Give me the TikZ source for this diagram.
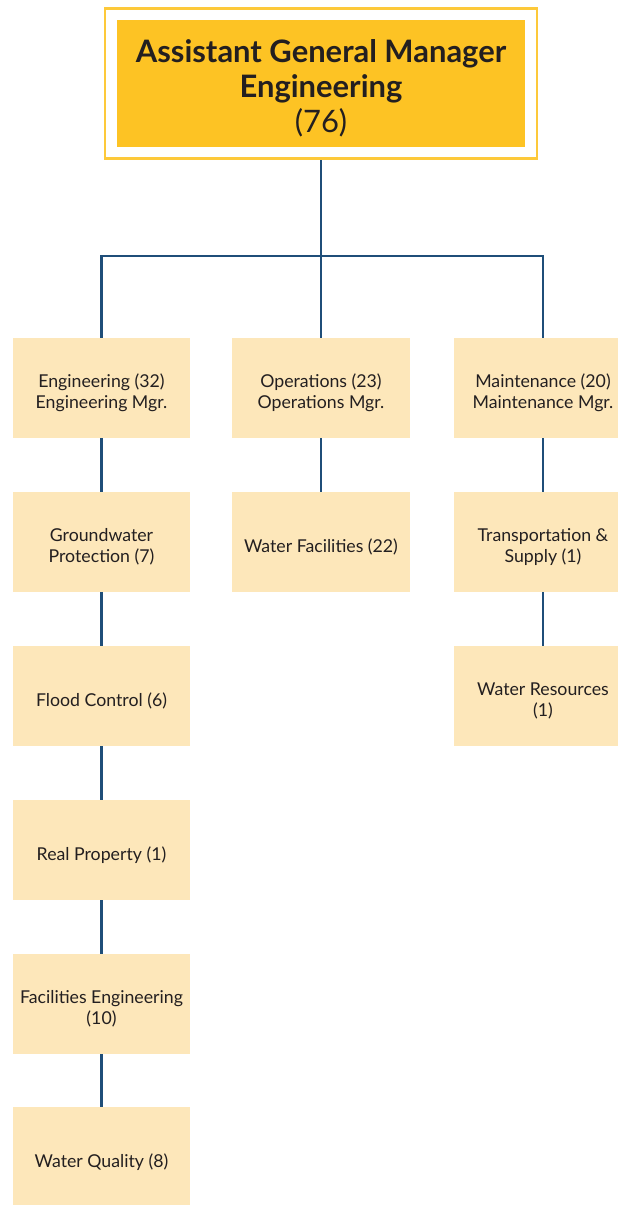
\documentclass[tikz,border=0pt]{standalone}
\usepackage{fontspec}
\setmainfont{Lato}
\usetikzlibrary{fit}

\definecolor{agmgold}{RGB}{253,195,36}
\definecolor{unitcream}{RGB}{253,231,186}
\definecolor{linkblue}{RGB}{31,78,121}
\definecolor{inktext}{RGB}{35,31,32}

% raise the first line so text sits a little low, as in the chart
\newcommand{\unitlift}{\rule{0pt}{16.5pt}}
\newcommand{\headlift}{\rule{0pt}{23pt}}

\tikzset{
    unit/.style={fill=unitcream, minimum width=4.425cm, minimum height=2.5cm,
        inner sep=0pt, align=center, text=inktext,
        font=\fontsize{12.6}{15}\selectfont},
    head/.style={fill=agmgold, minimum width=10.2cm, minimum height=3.175cm,
        inner sep=0pt, align=center, text=inktext,
        font=\fontsize{22}{25}\selectfont},
    headframe/.style={draw=agmgold!90!white, line width=2pt, inner sep=0.29cm},
    link/.style={draw=linkblue, line width=2.1pt}
}

\begin{document}
\begin{tikzpicture}[x=0.025cm, y=-0.025cm]
    \useasboundingbox (0,0) rectangle (618,1205);

    % Top box
    \node[head] (agm) at (321,83.5)
    {\headlift\textbf{Assistant General Manager}\\\textbf{Engineering}\\(76)};
    \node[headframe, fit=(agm)] (agmframe) {};

    % Divisions
    \node[unit] (eng) at (101.5,388) {\unitlift Engineering (32)\\Engineering Mgr.};
    \node[unit] (ops) at (321,388) {\unitlift Operations (23)\\Operations Mgr.};
    \node[unit] (mnt) at (543,388) {\unitlift Maintenance (20)\\Maintenance Mgr.};

    % Engineering sections
    \node[unit] (gwp) at (101.5,542) {\unitlift Groundwater\\Protection (7)};
    \node[unit] (flood) at (101.5,696) {\unitlift Flood Control (6)};
    \node[unit] (realprop) at (101.5,850) {\unitlift Real Property (1)};
    \node[unit] (faceng) at (101.5,1004) {\unitlift Facilities Engineering\\(10)};
    \node[unit] (wq) at (101.5,1157) {\unitlift Water Quality (8)};

    % Operations sections
    \node[unit] (wf) at (321,542) {\unitlift Water Facilities (22)};

    % Maintenance sections
    \node[unit] (trans) at (543,542) {\unitlift Transportation \&\\Supply (1)};
    \node[unit] (wr) at (543,696) {\unitlift Water Resources\\(1)};

    % Connectors
    \coordinate (bus) at (321,256);
    \draw[link] (agmframe.south) -- (bus);
    \draw[link] (eng.north) |- (bus) -| (mnt.north);
    \draw[link] (bus) -- (ops.north);

    \foreach \a/\b in {eng/gwp, gwp/flood, flood/realprop, realprop/faceng,
        faceng/wq, ops/wf, mnt/trans, trans/wr}{
        \draw[link] (\a.south) -- (\b.north);
    }
\end{tikzpicture}
\end{document}
